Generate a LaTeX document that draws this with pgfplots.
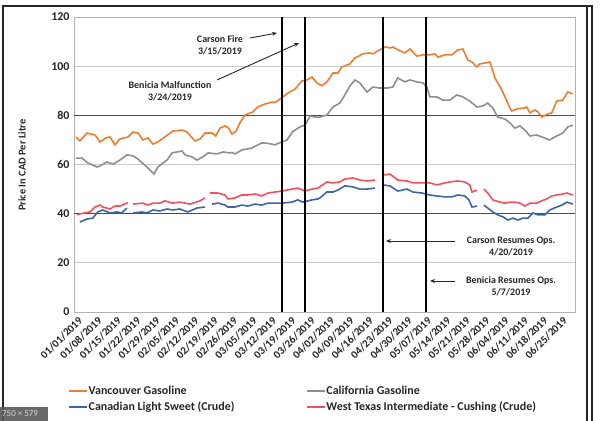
\documentclass[border=0pt]{standalone}
\usepackage{fontspec}
\setmainfont{Carlito}
\usepackage{pgfplots}
\pgfplotsset{compat=1.18}
\usetikzlibrary{arrows.meta}

\definecolor{vanc}{HTML}{ED7D31}
\definecolor{cali}{HTML}{8E8E8E}
\definecolor{cls}{HTML}{3E64A6}
\definecolor{wti}{HTML}{F2505C}
\definecolor{txt}{HTML}{262626}

\begin{document}
\begin{tikzpicture}
\useasboundingbox (-74bp,-109bp) rectangle (526bp,312bp);
% screenshot frame
\draw[black!85, line width=1.3bp] (-71bp,-115bp) -- (-71bp,306bp) -- (518bp,306bp) -- (518bp,-115bp);
\draw[black!85, line width=1.3bp] (513bp,306bp) -- (513bp,-115bp);

\begin{axis}[
    at={(0,0)}, anchor=south west,
    scale only axis, width=501bp, height=295bp,
    xmin=-0.7, xmax=180.2,
    ymin=0, ymax=120,
    ytick={0,20,...,120},
    xtick={0,7,...,175},
    xticklabels={01/01/2019,01/08/2019,01/15/2019,01/22/2019,01/29/2019,02/05/2019,02/12/2019,02/19/2019,02/26/2019,03/05/2019,03/12/2019,03/19/2019,03/26/2019,04/02/2019,04/09/2019,04/16/2019,04/23/2019,04/30/2019,05/07/2019,05/14/2019,05/21/2019,05/28/2019,06/04/2019,06/11/2019,06/18/2019,06/25/2019},
    major tick length=0pt,
    /pgf/number format/assume math mode=true,
    ticklabel style={font=\bfseries\fontsize{11}{12}\selectfont, text=txt},
    yticklabel style={font=\bfseries\fontsize{12}{13}\selectfont, xshift=-1bp},
    xticklabel style={rotate=45, anchor=east, xshift=2bp, yshift=-8bp},
    axis line style={black!30},
    ymajorgrids, major grid style={black!20, line width=0.8bp},
    extra y ticks={40,80}, extra y tick labels={},
    extra y tick style={grid=major, major grid style={black!70, line width=0.8bp}},
    every axis y label/.style={at={(rel axis cs:0,0.498)}, xshift=-52bp, rotate=90, anchor=center,
        font=\bfseries\fontsize{10.5}{12}\selectfont, text=txt},
    ylabel={Price In CAD Per Litre},
    unbounded coords=jump,
    legend columns=2,
    legend cell align=left,
    legend image code/.code={\draw[#1, line width=2bp] (0bp,0bp) -- (18bp,0bp);},
    legend style={at={(-0.012,-0.25)}, anchor=north west, draw=none, fill=none,
        font=\bfseries\fontsize{12}{14}\selectfont, text=txt,
        inner sep=0pt, row sep=4bp,
        nodes={inner sep=0.5bp},
        /tikz/every odd column/.append style={column sep=0bp},
        /tikz/every even column/.append style={column sep=71bp}},
    every axis plot/.append style={line width=1.6bp},
]

\addplot[vanc] coordinates {
(0,71.2)(1.4,69.6)(4.0,72.8)(6.9,72)(8.7,69.2)(10.8,70.8)(12.3,71.2)(14.1,68)(15.9,70.4)(18.8,71.2)(20.6,73.2)(22.4,72.8)(24.2,70)(26.0,70.8)(27.8,68.3)(29.6,69.2)(32.1,71.2)(35.0,73.6)(38.3,74)(40.1,73.2)(43.0,69.6)(44.8,70.4)(46.6,72.8)(49.1,72.8)(50.5,71.6)(52.0,74.8)(53.8,75.7)(55.2,74.8)(56.3,72.4)(57.8,73.5)(59.2,76.9)(61.0,80.1)(63.9,81.4)(65.7,83.4)(68.2,84.6)(70.8,85.4)(72.2,85.4)(74.4,87.2)(76.5,89)(79.1,90.7)(81.6,94)(83.4,94.4)(85.2,95.6)(87.0,93.2)(88.8,92)(90.6,93.6)(92.8,97.2)(94.6,97.2)(96.0,99.7)(98.9,100.9)(100.7,103.3)(103.6,105)(106.1,105.4)(107.2,105)(109.0,106.2)(111.6,107.8)(113.4,107.4)(114.4,107.8)(117.0,106.2)(118.8,105.4)(120.6,107)(123.1,104.1)(125.3,104.6)(127.8,104.6)(129.6,105)(130.7,103.7)(133.2,104.6)(135.7,104.6)(137.9,106.6)(139.7,107)(141.5,102.5)(143.0,101.7)(144.8,99.7)(145.8,100.9)(147.7,101.3)(149.5,101.7)(151.3,95.2)(153.8,90.3)(154.9,87.5)(156.7,83)(157.4,81.8)(159.2,82.6)(162.1,83)(162.8,83.4)(163.9,81)(165.7,82.2)(166.8,81.4)(168.2,79.3)(170.4,80.6)(171.8,81)(173.6,85.8)(175.8,86.2)(177.6,89.5)(179.4,88.7)
};
\addlegendentry{Vancouver Gasoline}

\addplot[cali] coordinates {
(0,62.6)(2.2,62.6)(4.3,60.6)(7.6,59)(8.7,59.4)(11.2,61)(13.4,60.2)(15.9,61.8)(18.4,63.9)(20.6,63.5)(22.4,62.2)(25.6,59)(28.2,56.1)(29.6,59)(31.4,60.6)(32.9,61.8)(34.7,64.7)(36.5,65.1)(38.3,65.5)(39.4,63.9)(41.9,63.1)(43.7,61.8)(45.8,63.1)(47.7,64.7)(50.9,64.3)(53.1,65.1)(55.6,64.7)(56.3,64.9)(57.4,64.3)(59.9,65.9)(63.5,66.7)(67.1,68.8)(69.3,68.6)(71.8,68)(74.4,69.2)(76.2,70)(78.3,73.4)(80.9,75.3)(82.7,76)(84.5,79.7)(86.3,79.3)(88.1,79.3)(89.2,79.7)(90.6,80.1)(92.8,83.4)(95.3,85)(97.1,88.3)(98.9,91.9)(100.7,94.4)(102.5,93.2)(105.1,89.5)(107.2,91.5)(109.7,91.1)(112.3,91.1)(114.4,91.5)(116.2,95.2)(118.8,93.6)(120.6,94.4)(123.1,93.6)(125.3,93.2)(126.7,91.5)(127.8,87.5)(130.3,87.5)(132.5,86.2)(135.0,86.2)(137.5,88.3)(139.7,87.5)(142.2,85.8)(144.8,83.4)(146.9,83.8)(148.7,85)(150.5,83)(152.3,79.3)(154.9,78.5)(156.7,76.9)(158.5,74.8)(160.3,75.7)(162.1,74)(163.9,71.6)(166.4,72)(168.2,71.2)(171.1,70)(172.9,71.2)(175.8,72.8)(177.6,75.3)(179.4,76)
};
\addlegendentry{California Gasoline}

\addplot[cls] coordinates {
(1.4,36.6)(4.0,37.8)(6.1,38.2)(7.9,40.7)(9.7,41.5)(12.3,40.3)(14.8,40.7)(16.6,40.3)(18.4,42.3)(19.5,nan)
(20.6,40.3)(23.8,40.7)(25.6,40.3)(27.8,41.5)(30.3,41.1)(32.9,41.9)(35.0,41.5)(37.5,41.9)(40.4,40.7)(43.7,42.3)(46.6,42.7)(47.8,nan)
(49.1,43.9)(51.3,44.3)(53.8,43.5)(54.9,42.7)(57.4,42.7)(59.9,43.5)(62.1,43.1)(64.6,43.9)(67.1,43.5)(69.3,44.3)(71.8,44.3)(74.4,44.3)(78.0,44.7)(80.1,45.6)(81.9,44.7)(85.2,45.6)(87.4,46)(88.1,46.4)(90.6,48.8)(92.8,48.8)(94.6,49.6)(97.1,51.3)(100.0,50.9)(102.5,50)(105.1,50)(107.9,50.4)(109.3,nan)
(110.8,51.7)(113.4,51.3)(116.2,49.2)(119.5,50)(121.7,48.8)(124.9,48.4)(127.8,47.6)(130.3,47.2)(133.2,46.8)(135.7,46.8)(137.9,47.6)(140.4,47.2)(141.9,45.6)(143.0,42.7)(144.8,43.1)(146.0,nan)
(147.3,43.5)(148.7,42.3)(150.5,40.7)(152.3,39.5)(154.2,38.7)(156.0,37.4)(157.8,38.2)(159.6,37.4)(161.4,38.2)(163.2,38.2)(165.0,40.3)(166.8,39.5)(169.3,39.5)(171.1,41.5)(173.6,42.7)(175.5,43.5)(177.3,44.7)(179.4,43.9)
};
\addlegendentry{Canadian Light Sweet (Crude)}

\addplot[wti] coordinates {
(0.4,39.5)(1.4,39.9)(5.1,40.7)(6.9,42.7)(8.7,43.5)(9.7,42.7)(12.3,41.9)(14.1,43.1)(15.9,43.1)(18.4,44.3)(18.8,44.5)(19.5,nan)
(20.6,43.9)(24.2,44.3)(26.0,43.5)(27.8,44.3)(30.3,44.3)(32.1,45.2)(34.7,44.3)(37.5,44.7)(41.2,43.9)(44.8,45.2)(46.6,46.4)(47.5,nan)
(48.4,48.4)(51.3,48.4)(53.8,47.6)(54.9,46)(57.4,46.4)(59.9,47.6)(62.1,47.6)(64.6,48)(67.1,47.2)(69.3,48.4)(71.8,48.8)(74.4,49.2)(78.0,50)(80.1,50.4)(82.7,49.2)(85.2,50)(87.4,50.4)(88.1,50.9)(90.6,52.9)(92.8,52.5)(95.3,52.9)(97.1,54.1)(100.0,54.5)(102.5,53.7)(105.1,53.3)(107.9,53.7)(109.3,nan)
(110.8,55.7)(113.4,56.1)(116.2,53.7)(119.5,53.3)(121.7,52.5)(124.9,52.5)(127.8,52.5)(130.3,51.7)(133.2,52.5)(135.0,52.9)(137.9,53.3)(140.4,52.9)(142.2,51.7)(143.0,48.8)(144.8,49.6)(146.0,nan)
(147.3,50)(148.7,48.4)(150.5,45.6)(153.1,44.7)(154.9,44.3)(156.7,44.7)(158.5,44.7)(160.3,44.3)(162.1,43.1)(163.9,44.3)(166.4,44.3)(168.2,45.2)(170.0,46)(171.8,47.2)(173.6,47.6)(175.8,48)(177.3,48.4)(179.4,47.6)
};
\addlegendentry{West Texas Intermediate - Cushing (Crude)}

% event lines
\addplot[black, line width=1.8bp, forget plot] coordinates {(74.4,0)(74.4,120)};
\addplot[black, line width=1.8bp, forget plot] coordinates {(82.7,0)(82.7,120)};
\addplot[black, line width=1.8bp, forget plot] coordinates {(110.8,0)(110.8,120)};
\addplot[black, line width=1.8bp, forget plot] coordinates {(126.4,0)(126.4,120)};
\end{axis}

% annotations
\begin{scope}[every node/.style={font=\bfseries\fontsize{10}{12}\selectfont, text=txt, align=center}]
\node at (146bp,267bp) {Carson Fire\\3/15/2019};
\draw[-{Stealth[length=5bp,width=4bp]}, line width=0.9bp, txt] (176bp,274bp) -- (203bp,279bp);
\node at (96bp,221bp) {Benicia Malfunction\\3/24/2019};
\draw[-{Stealth[length=5bp,width=4bp]}, line width=0.9bp, txt] (143bp,232bp) -- (225bp,269bp);
\node at (437bp,66bp) {Carson Resumes Ops.\\4/20/2019};
\draw[-{Stealth[length=5bp,width=4bp]}, line width=0.9bp, txt] (381bp,71bp) -- (312bp,71bp);
\node at (437bp,26bp) {Benicia Resumes Ops.\\5/7/2019};
\draw[-{Stealth[length=5bp,width=4bp]}, line width=0.9bp, txt] (381bp,31bp) -- (356bp,31bp);
\end{scope}

% screenshot size badge
\fill[black!65, opacity=0.9] (-74bp,-109bp) rectangle (-26bp,-95bp);
\node[font=\fontsize{9}{10}\selectfont, text=white!85!black, anchor=west, inner sep=1bp] at (-73bp,-102bp) {750 × 579};
\end{tikzpicture}
\end{document}
